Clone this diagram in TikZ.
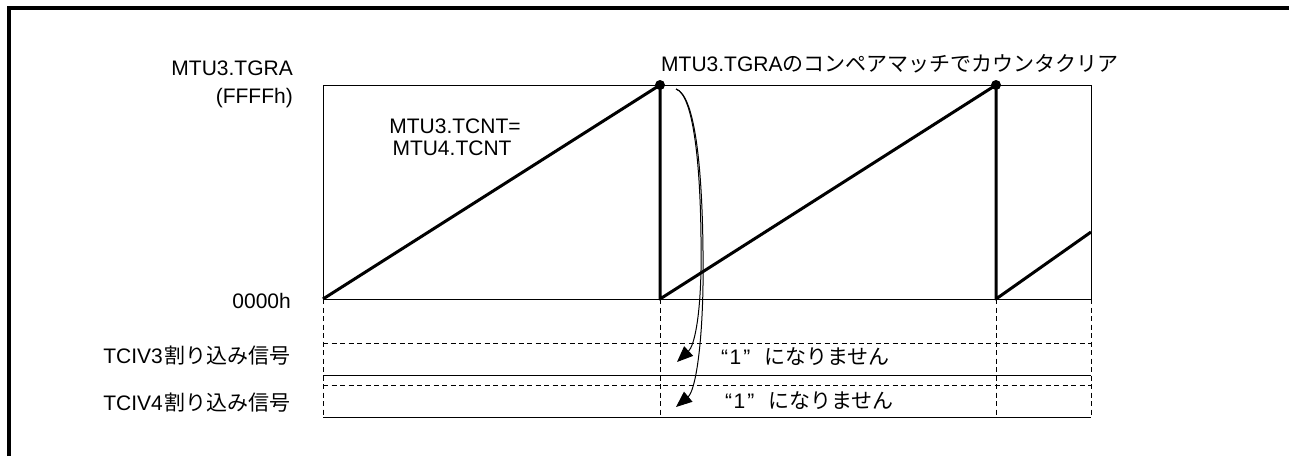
\documentclass[tikz,border=0pt]{standalone}
\usepackage{fontspec}
\setmainfont{Liberation Sans}
\newfontfamily\jp{Noto Sans CJK JP}
\usetikzlibrary{arrows.meta}
\begin{document}
\begin{tikzpicture}[x=1pt,y=-1pt,
  lbl/.style={inner sep=0pt, font=\fontsize{21}{25}\selectfont},
  frame/.style={line width=3.5pt},
  thinline/.style={line width=1pt},
  dsh/.style={line width=1pt, dash pattern=on 5pt off 3.5pt},
  saw/.style={line width=3pt, line join=round},
  arr/.style={line width=1pt, -{Triangle[length=16pt,width=13pt]}},
  dot/.style={circle, fill, inner sep=0pt, minimum size=10pt}
]
\useasboundingbox (0,0) rectangle (1289,456);
% outer frame (left and top)
\coordinate (fbl) at (9,456);
\coordinate (ftl) at (9,8);
\coordinate (ftr) at (1289,8);
\draw[frame] (fbl) -- (ftl) -- (ftr);
% main box
\coordinate (boxtl) at (323,85);
\coordinate (boxbr) at (1091,299);
\draw[thinline] (boxtl) rectangle (boxbr);
% dashed grid below
\foreach \x/\n in {323/a,660/b,996/c,1091/d}{
  \coordinate (v\n top) at (\x,299);
  \coordinate (v\n bot) at (\x,417);
  \draw[dsh] (v\n top) -- (v\n bot);
}
\coordinate (h1l) at (323,343); \coordinate (h1r) at (1091,343);
\coordinate (h2l) at (323,375); \coordinate (h2r) at (1091,375);
\coordinate (h3l) at (323,385); \coordinate (h3r) at (1091,385);
\coordinate (h4l) at (323,417); \coordinate (h4r) at (1091,417);
\draw[dsh] (h1l) -- (h1r);
\draw[thinline] (h2l) -- (h2r);
\draw[dsh] (h3l) -- (h3r);
\draw[thinline] (h4l) -- (h4r);
% sawtooth
\coordinate (o) at (323,299);
\coordinate (p1) at (660,85);
\coordinate (b1) at (660,299);
\coordinate (p2) at (996,85);
\coordinate (b2) at (996,299);
\coordinate (e) at (1091,232);
\draw[saw] (o) -- (p1) -- (b1) -- (p2) -- (b2) -- (e);
\node[dot] (d1) at (p1) {};
\node[dot] (d2) at (p2) {};
% curved arrows
\coordinate (s) at (676,89);
\coordinate (t1) at (677,362);
\coordinate (t2) at (676,407);
\draw[arr] (s) .. controls (694,95) and (702,170) .. (701,270) .. controls (700,320) and (694,346) .. (t1);
\draw[arr] (s) .. controls (695,95) and (704,170) .. (703,285) .. controls (702,350) and (695,391) .. (t2);
% labels
\node[lbl, anchor=base east] (tgra) at (293,75) {MTU3.TGRA};
\node[lbl, anchor=base east] (ffff) at (293,103) {(FFFFh)};
\node[lbl, anchor=base] (tcnt3) at (455,133) {MTU3.TCNT=};
\node[lbl, anchor=base] (tcnt4) at (452,155) {MTU4.TCNT};
\node[lbl, anchor=base east] (zero) at (291,308) {0000h};
\node[lbl, anchor=base east] (tciv3) at (291,363) {TCIV3\hspace{2pt}{\jp 割り込み信号}};
\node[lbl, anchor=base east] (tciv4) at (291,410) {TCIV4\hspace{2pt}{\jp 割り込み信号}};
\node[lbl, anchor=base west] (title) at (661,71) {MTU3.TGRA{\jp のコンペアマッチでカウンタクリア}};
\node[lbl, anchor=base west] (n1) at (721,364) {“\hspace{1.5pt}1\hspace{2pt}”\hspace{14pt}{\jp になりません}};
\node[lbl, anchor=base west] (n2) at (725,408) {“\hspace{1.5pt}1\hspace{2pt}”\hspace{14pt}{\jp になりません}};
\end{tikzpicture}
\end{document}
